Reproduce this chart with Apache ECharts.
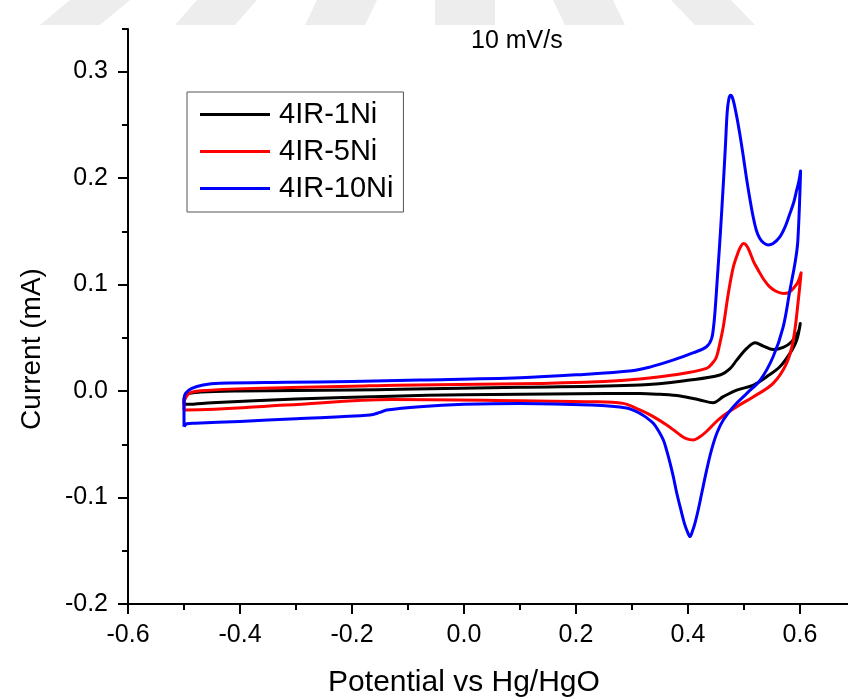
<!DOCTYPE html>
<html>
<head>
<meta charset="utf-8">
<script src="https://cdn.jsdelivr.net/npm/echarts@6/dist/echarts.min.js"></script>
<style>
html,body{margin:0;padding:0;background:#ffffff;}
#chart{width:848px;height:698px;}
</style>
</head>
<body>
<div id="chart"></div>
<script>
// ---- data ----
const seriesNames = ['4IR-1Ni', '4IR-5Ni', '4IR-10Ni'];
const annotation = '10 mV/s';
const xTitle = 'Potential vs Hg/HgO';
const yTitle = 'Current (mA)';

// 4IR-1Ni (black)
const potential1Ni = [-0.5,-0.5,-0.495,-0.47,-0.4,-0.2,-0.114,0.1,0.314,0.4036,0.457,0.475,0.487,0.505,0.52,0.5345,0.552,0.57,0.585,0.597,0.6005,
  0.594,0.582,0.564,0.5405,0.517,0.487,0.463,0.445,0.421,0.386,0.35,0.314,0.2,0.0,-0.13,-0.3,-0.45,-0.495,-0.5];
const current1Ni = [-0.0125,-0.008,-0.003,-0.001,0.0,0.001,0.0016,0.0035,0.0056,0.0103,0.015,0.021,0.029,0.04,0.0453,0.0422,0.039,0.041,0.0463,0.0556,0.0635,
  0.0478,0.0354,0.0228,0.0134,0.0056,0.0009,-0.0053,-0.011,-0.0084,-0.0047,-0.0031,-0.0022,-0.0025,-0.0035,-0.0048,-0.0075,-0.011,-0.0125,-0.0125];

// 4IR-5Ni (red)
const potential5Ni = [-0.5,-0.5,-0.496,-0.488,-0.471,-0.376,-0.2,-0.12,0.1,0.25,0.314,0.373,0.433,0.445,0.451,0.457,0.463,0.472,0.481,0.49,0.495,0.499,0.504,0.51,0.5175,0.5255,0.535,0.546,0.558,0.57,0.58,0.588,0.596,0.602,
  0.597,0.588,0.576,0.552,0.517,0.487,0.457,0.433,0.42,0.4095,0.398,0.386,0.374,0.362,0.338,0.314,0.284,0.225,0.1,-0.13,-0.317,-0.495,-0.5];
const current5Ni = [-0.0178,-0.0116,-0.0053,-0.0015,0.0003,0.0025,0.0045,0.0055,0.0068,0.009,0.0113,0.015,0.0213,0.027,0.0322,0.045,0.0603,0.0917,0.1166,0.131,0.1365,0.1385,0.137,0.131,0.121,0.1135,0.105,0.0978,0.0935,0.0917,0.0925,0.0963,0.102,0.111,
  0.0854,0.0478,0.026,0.0072,-0.0053,-0.0147,-0.0256,-0.038,-0.0435,-0.046,-0.045,-0.0413,-0.0365,-0.0319,-0.024,-0.0178,-0.0116,-0.01,-0.0091,-0.008,-0.0131,-0.0178,-0.0178];

// 4IR-10Ni (blue)
const potential10Ni = [-0.5,-0.5,-0.497,-0.486,-0.466,-0.436,-0.317,-0.2,-0.079,0.1,0.2,0.3,0.332,0.373,0.41,0.433,0.442,0.446,0.449,0.452,0.455,0.458,0.461,0.464,0.467,0.47,0.473,0.476,0.48,0.486,0.492,0.498,0.504,0.51,0.516,0.522,0.528,0.535,0.543,0.552,0.564,0.574,0.582,0.589,0.594,0.598,0.601,
  0.596,0.591,0.582,0.57,0.552,0.529,0.505,0.481,0.463,0.452,0.442,0.433,0.4245,0.4185,0.4125,0.408,0.4036,0.3985,0.3934,0.387,0.38,0.374,0.368,0.362,0.356,0.347,0.338,0.326,0.314,0.29,0.225,0.1,0.0,-0.079,-0.138,-0.15,-0.168,-0.3,-0.4,-0.48,-0.495,-0.5];
const current10Ni = [-0.0335,-0.008,-0.002,0.0025,0.0056,0.0072,0.0082,0.009,0.0103,0.0125,0.0152,0.019,0.0225,0.029,0.036,0.0416,0.049,0.062,0.08,0.103,0.126,0.15,0.176,0.203,0.232,0.262,0.2745,0.2777,0.2745,0.2605,0.243,0.223,0.2015,0.182,0.1645,0.151,0.1435,0.1392,0.1372,0.1385,0.1448,0.155,0.1667,0.1775,0.1886,0.197,0.2067,
  0.14,0.12,0.0947,0.0603,0.0322,0.0103,-0.0022,-0.0147,-0.0272,-0.039,-0.0553,-0.075,-0.096,-0.111,-0.124,-0.1315,-0.1367,-0.1315,-0.124,-0.111,-0.096,-0.081,-0.0678,-0.056,-0.046,-0.037,-0.0303,-0.025,-0.0209,-0.016,-0.0131,-0.0116,-0.0125,-0.0147,-0.0178,-0.02,-0.0225,-0.026,-0.0285,-0.0302,-0.0308,-0.0335];

const seriesColors = ['#000000', '#ff0000', '#0000ff'];

// ---- build ----
function pairs(xs, ys) { return xs.map((x, i) => [x, ys[i]]); }
const allData = [pairs(potential1Ni, current1Ni), pairs(potential5Ni, current5Ni), pairs(potential10Ni, current10Ni)];

const FONT = 'Liberation Sans, Arial, sans-serif';
const chart = echarts.init(document.getElementById('chart'), null, {renderer: 'canvas'});

const fmt = v => (Math.round(v * 10) / 10).toFixed(1);

// watermark stripes (decorative background band)
const stripeCenters = [70, 205, 335, 465, 595, 725];
const stripeSlants = [30, 22, 12, 0, -12, -24];
const watermark = stripeCenters.map((c, i) => ({
  type: 'polygon',
  z: -10,
  shape: {points: [[c - 30, 25], [c + 30, 25], [c + 30 + stripeSlants[i], 0], [c - 30 + stripeSlants[i], 0]]},
  style: {fill: '#ededed'}
}));

const option = {
  backgroundColor: '#ffffff',
  animation: false,
  grid: {left: 128, top: 29, width: 728, height: 575, containLabel: false, outerBoundsMode: 'none'},
  legend: {
    orient: 'vertical', left: 187, top: 92,
    icon: 'rect', itemWidth: 70, itemHeight: 3, itemGap: 8,
    padding: [8, 10, 9, 13],
    borderColor: '#555', borderWidth: 1,
    textStyle: {fontFamily: FONT, fontSize: 29, color: '#000', padding: [0, 0, 0, 4]},
    data: seriesNames
  },
  xAxis: [
    {
      type: 'value', min: -0.6, max: 0.7, interval: 0.2,
      axisLine: {show: true, onZero: false, lineStyle: {color: '#000', width: 2}},
      axisTick: {show: true, inside: false, length: 10, lineStyle: {color: '#000', width: 2}},
      axisLabel: {show: true, margin: 19, fontFamily: FONT, fontSize: 25, color: '#000', formatter: fmt, showMaxLabel: false},
      splitLine: {show: false}
    },
    {
      type: 'value', min: -0.6, max: 0.7, interval: 0.1, position: 'bottom',
      axisLine: {show: false, onZero: false},
      axisTick: {show: true, inside: false, length: 6, lineStyle: {color: '#000', width: 2}},
      axisLabel: {show: false},
      splitLine: {show: false}
    }
  ],
  yAxis: [
    {
      type: 'value', min: -0.2, max: 0.34, interval: 0.1,
      axisLine: {show: true, onZero: false, lineStyle: {color: '#000', width: 2}},
      axisTick: {show: true, inside: false, length: 10, lineStyle: {color: '#000', width: 2}},
      axisLabel: {show: true, margin: 20, fontFamily: FONT, fontSize: 25, color: '#000', formatter: fmt, showMaxLabel: false},
      splitLine: {show: false}
    },
    {
      type: 'value', min: -0.2, max: 0.34, interval: 0.05, position: 'left',
      axisLine: {show: false, onZero: false},
      axisTick: {show: true, inside: false, length: 6, lineStyle: {color: '#000', width: 2}},
      axisLabel: {show: false},
      splitLine: {show: false}
    }
  ],
  series: seriesNames.map((name, i) => ({
    name: name,
    type: 'line',
    xAxisIndex: 0, yAxisIndex: 0,
    data: allData[i],
    showSymbol: false, symbol: 'none',
    smooth: 0.35,
    color: seriesColors[i],
    lineStyle: {color: seriesColors[i], width: 3, join: 'round'},
    z: 2 + i
  })),
  graphic: watermark.concat([
    {
      type: 'text', left: 471, top: 29,
      style: {text: annotation, fontFamily: FONT, fontSize: 25, fill: '#000'}
    },
    {
      type: 'text', x: 464, y: 683,
      style: {text: xTitle, fontFamily: FONT, fontSize: 30, fill: '#000', align: 'center', verticalAlign: 'middle'}
    },
    {
      type: 'text', x: 32, y: 349, rotation: Math.PI / 2,
      style: {text: yTitle, fontFamily: FONT, fontSize: 28, fill: '#000', align: 'center', verticalAlign: 'middle'}
    }
  ])
};
chart.setOption(option);
</script>
</body>
</html>
